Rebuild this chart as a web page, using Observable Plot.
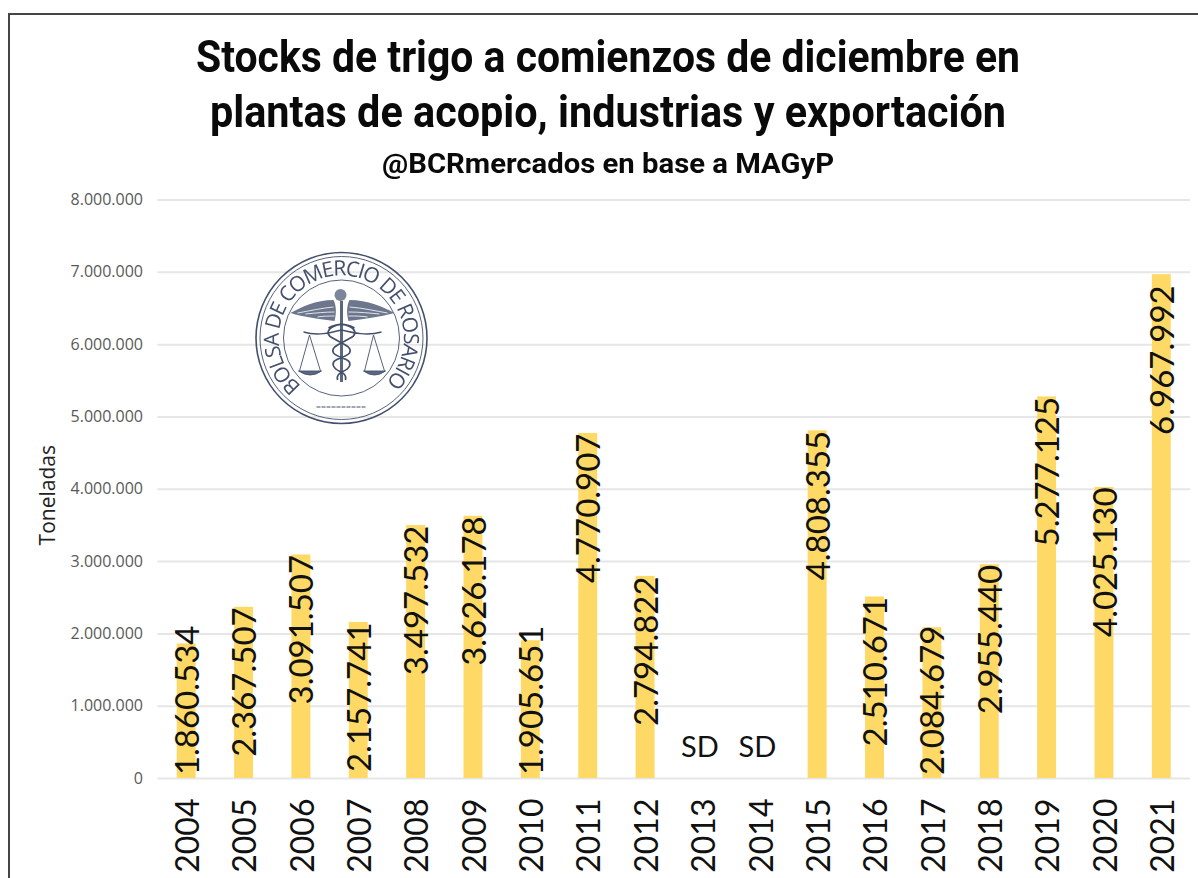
<!DOCTYPE html>
<html lang="es">
<head>
<meta charset="utf-8">
<script src="https://cdn.jsdelivr.net/npm/d3@7"></script>
<script src="https://cdn.jsdelivr.net/npm/@observablehq/plot@0.6"></script>
<style>
  html, body { margin: 0; padding: 0; background: #fff; }
  body { width: 1198px; height: 878px; overflow: hidden; position: relative; }
  #frame { position: absolute; left: 8px; top: 13px; right: -4px; bottom: -4px; border: 2px solid #454545; box-sizing: border-box; }
  #head { position: absolute; left: 0; top: 0; width: 1198px; height: 180px; font-family: Roboto, sans-serif; color: #0a0a0a; text-align: center; }
  #head div { position: absolute; left: 18px; width: 1180px; white-space: nowrap; font-weight: 700; }
  #l1 { top: 32px; font-size: 44px; line-height: 50px; transform: scaleX(.93); }
  #l2 { top: 87px; font-size: 44px; line-height: 50px; transform: scaleX(.94); }
  #l3 { top: 147px; font-size: 28px; line-height: 34px; transform: scaleX(1.045); }
  #chart { position: absolute; left: 0; top: 180px; }
  #chart svg { display: block; background: transparent; }
  #logo { position: absolute; left: 0; top: 0; pointer-events: none; }
  #logo g { filter: blur(0.35px); }
</style>
</head>
<body>
<div id="frame"></div>
<div id="head">
  <div id="l1">Stocks de trigo a comienzos de diciembre en</div>
  <div id="l2">plantas de acopio, industrias y exportación</div>
  <div id="l3">@BCRmercados en base a MAGyP</div>
</div>
<div id="chart"></div>
<svg id="logo" width="1198" height="878" xmlns="http://www.w3.org/2000/svg">
  <g transform="translate(341.5,338)" fill="none" stroke="#43506b">
    <circle r="85.5" stroke-width="1.6"/>
    <circle r="81.5" stroke-width="0.9"/>
    <circle r="58" stroke-width="0.9"/>
    <path id="ring" d="M-40,48 A62.5,62.5 0 1 1 41,47" stroke="none"/>
    <text font-family="Open Sans, sans-serif" font-size="21" fill="#43506b" stroke="none">
      <textPath href="#ring" startOffset="0" textLength="300" lengthAdjust="spacing">BOLSA DE COMERCIO DE ROSARIO</textPath>
    </text>
    <path d="M-7,-17 C-22,-19 -38,-21 -51,-25 C-40,-31 -26,-38 -8,-38 C-5,-32 -5,-24 -7,-17 Z" fill="#6c778d" stroke="none"/>
    <path d="M7,-17 C22,-19 38,-21 53,-25 C42,-31 26,-38 8,-38 C5,-32 5,-24 7,-17 Z" fill="#6c778d" stroke="none"/>
    <path d="M-44,-25 C-32,-27 -20,-30 -8,-31 M-36,-24 C-26,-25 -16,-26 -7,-26 M-24,-21 C-18,-22 -12,-22 -7,-22 M46,-25 C34,-27 22,-30 8,-31 M38,-24 C28,-25 18,-26 7,-26 M26,-21 C20,-22 14,-22 7,-22" stroke="#fff" stroke-width="0.8"/>
    <circle cx="-1" cy="-43" r="6" fill="#7b869b" stroke="none"/>
    <path d="M0,-37 V44" stroke="#5b677f" stroke-width="3"/>
    <path d="M-38,-6 C-24,-2 -12,-5 0,-8 C12,-5 26,-2 40,-6" stroke-width="1.5"/>
    <path d="M-32,-3 L-42,33 M-32,-3 L-21,33 M32,-3 L23,33 M32,-3 L43,33" stroke-width="0.9"/>
    <path d="M-43,33 H-20 Q-31,41 -43,33 Z M22,33 H44 Q33,41 22,33 Z" fill="#5b677f" stroke="#43506b" stroke-width="0.9"/>
    <path d="M-13,-10 C4,-19 18,-8 12,-2 C2,5 -12,8 -8,15 C-3,21 11,20 8,28 C5,35 -6,33 -4,42 M13,-10 C-4,-19 -18,-8 -12,-2 C-2,5 12,8 8,15 C3,21 -11,20 -8,28 C-5,35 6,33 4,42" stroke-width="1.7"/>
    <path d="M-25,69 H25" stroke-width="1.2" stroke-dasharray="4 1"/>
  </g>
</svg>
<script>
const years = ["2004","2005","2006","2007","2008","2009","2010","2011","2012","2013","2014","2015","2016","2017","2018","2019","2020","2021"];
const stocks = [1860534,2367507,3091507,2157741,3497532,3626178,1905651,4770907,2794822,null,null,4808355,2510671,2084679,2955440,5277125,4025130,6967992];
// Altura (en toneladas) donde termina cada rótulo rotado
const labelTops = [2115000,2367507,3091507,2157741,3497532,3626178,2115000,4770907,2794822,null,null,4808355,2510671,2115000,2955440,5277125,4025130,6820000];
const noDataYears = ["2013","2014"];
const noDataLabel = "SD";
const noDataLevel = 420000;
const yTicks = [0,1000000,2000000,3000000,4000000,5000000,6000000,7000000,8000000];

const fmt = d => d3.format(",")(d).replace(/,/g, ".");
const rows = years.map((year, i) => ({year, stock: stocks[i], top: labelTops[i]}));
const present = rows.filter(d => d.stock != null);

const chart = Plot.plot({
  width: 1198,
  height: 698,
  marginLeft: 157.5,
  marginRight: 8,
  marginTop: 19.5,
  marginBottom: 100,
  style: {background: "transparent", overflow: "visible"},
  x: {domain: years, paddingInner: 0.67, paddingOuter: 0.335, round: false, label: null},
  y: {domain: [0, 8000000], label: null},
  marks: [
    Plot.ruleY(yTicks, {stroke: "#e6e6e6", strokeWidth: 2}),
    Plot.barY(present, {x: "year", y: "stock", fill: "#FFD966"}),
    Plot.axisY({
      ticks: yTicks, tickSize: 0, tickPadding: 15, tickFormat: fmt,
      fontSize: 16, fontFamily: "Open Sans, sans-serif", color: "#595959",
      label: "Toneladas", labelAnchor: "center", labelArrow: "none", labelOffset: 118
    }),
    Plot.axisX({
      tickSize: 0, tickRotate: -90, tickPadding: 20, label: null, dx: 2,
      fontSize: 32, fontFamily: "Lato, sans-serif", color: "#111"
    }),
    Plot.text(present, {
      x: "year", y: "top", text: d => fmt(d.stock), rotate: -90, dx: 1.5,
      textAnchor: "end", lineAnchor: "middle",
      fontSize: 33, fontFamily: "Lato, sans-serif", fill: "#111"
    }),
    Plot.text(noDataYears, {
      x: d => d, y: () => noDataLevel, text: () => noDataLabel, dx: -3,
      fontSize: 29, fontFamily: "Lato, sans-serif", fill: "#111"
    })
  ]
});
document.getElementById("chart").append(chart);
const yl = [...chart.querySelectorAll("text")].find(t => t.textContent.trim() === "Toneladas");
if (yl) { yl.style.fontSize = "21px"; yl.style.fill = "#222"; yl.setAttribute("dx", "-6"); }
</script>
</body>
</html>
